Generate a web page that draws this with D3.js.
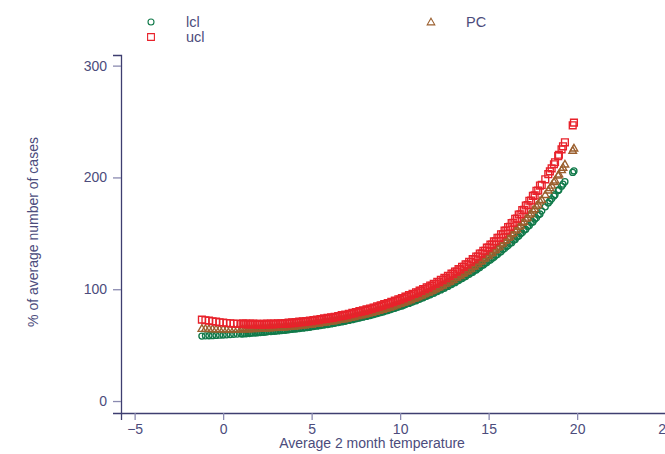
<!DOCTYPE html>
<html>
<head>
<meta charset="utf-8">
<script src="https://cdn.jsdelivr.net/npm/d3@7"></script>
<style>
  html, body { margin: 0; padding: 0; background: #ffffff; }
  svg { display: block; font-family: "Liberation Sans", Arial, Helvetica, sans-serif; }
</style>
</head>
<body>
<div id="chart"></div>
<script>
// Average 2 month temperature (x), first batch of observations
const temp = [
  -1.2,-1.0,-0.8,-0.6,-0.4,-0.2,
  0.0,0.2,0.4,0.6,0.8,
  1.0,1.2,1.4,1.6,1.8, 2.0,2.2,2.4,2.6,2.8, 3.0,3.2,3.4,3.6,3.8, 4.0,4.2,4.4,4.6,4.8,
  5.0,5.2,5.4,5.6,5.8, 6.0,6.2,6.4,6.6,6.8, 7.0,7.2,7.4,7.6,7.8, 8.0,8.2,8.4,8.6,8.8,
  9.0,9.2,9.4,9.6,9.8, 10.0,10.2,10.4,10.6,10.8, 11.0,11.2,11.4,11.6,11.8, 12.0,12.2,12.4,12.6,12.8,
  13.0,13.2,13.4,13.6,13.8, 14.0,14.2,14.4,14.6,14.8, 15.0,15.2,15.4,15.6,15.8, 16.0,16.2,16.4,16.6,16.8,
  17.0,17.2,17.4,17.6,17.8, 18.0,18.2,
  18.37,18.46,18.56,18.69,18.75,18.93,18.97,19.12,19.2,19.31,19.75,19.82
];
const pc = [
  64.9,64.8,64.7,64.6,64.5,64.4,
  64.4,64.3,64.3,64.3,64.3,
  64.4,64.4,64.5,64.6,64.7, 64.8,64.9,65.1,65.3,65.5, 65.7,65.9,66.1,66.4,66.7, 67.0,67.3,67.7,68.0,68.4,
  68.8,69.3,69.7,70.2,70.7, 71.2,71.7,72.3,72.9,73.5, 74.1,74.8,75.5,76.2,77.0, 77.7,78.5,79.3,80.2,81.1,
  82.0,83.0,84.0,85.0,86.1, 87.2,88.3,89.5,90.7,91.9, 93.2,94.6,96.0,97.4,98.9, 100.4,102.0,103.6,105.3,107.0,
  108.8,110.7,112.6,114.6,116.6, 118.7,120.9,123.1,125.5,127.9, 130.4,132.9,135.6,138.4,141.3, 144.3,147.3,150.5,153.8,157.2,
  160.7,164.4,168.1,172.0,176.0, 180.3,184.6,
  188.6,190.7,193.0,196.1,197.6,202.0,203.0,206.9,209.0,211.9,224.2,226.2
];
const ucl = [
  72.8,72.3,71.9,71.4,71.0,70.5,
  70.2,69.8,69.6,69.3,69.1,
  68.9,68.7,68.6,68.5,68.5, 68.4,68.3,68.4,68.6,68.6, 68.7,68.9,69.0,69.3,69.5, 69.7,70.1,70.4,70.7,71.1,
  71.5,72.0,72.4,72.9,73.4, 73.9,74.4,75.0,75.7,76.3, 76.9,77.6,78.4,79.2,80.0, 80.7,81.6,82.4,83.4,84.3,
  85.3,86.3,87.4,88.4,89.5, 90.7,91.8,93.2,94.4,95.7, 97.0,98.5,100.0,101.5,103.1, 104.7,106.4,108.2,109.9,111.8,
  113.7,115.8,117.8,120.0,122.1, 124.4,126.8,129.3,131.8,134.4, 137.2,139.9,142.9,146.0,149.2, 152.5,155.8,159.5,163.2,167.1,
  171.0,175.3,179.4,183.9,188.3, 193.3,198.3,
  202.9,205.4,208.1,211.8,213.6,219.0,220.3,225.1,227.8,231.4,246.6,249.0
];
const lcl = [
  58.1,58.3,58.4,58.5,58.7,58.9,
  59.1,59.2,59.4,59.7,59.9,
  60.1,60.3,60.6,60.9,61.1, 61.4,61.6,62.0,62.3,62.6, 62.9,63.1,63.5,63.8,64.2, 64.6,64.9,65.4,65.7,66.1,
  66.6,67.2,67.5,68.1,68.6, 69.1,69.6,70.3,70.9,71.5, 72.1,72.8,73.5,74.2,75.0, 75.7,76.5,77.2,78.1,79.0,
  79.9,80.8,81.8,82.8,83.9, 84.9,86.0,87.2,88.3,89.5, 90.8,92.1,93.4,94.8,96.2, 97.6,99.1,100.7,102.2,103.9,
  105.5,107.3,109.1,110.9,112.9, 114.8,116.8,118.8,121.1,123.3, 125.6,127.8,130.3,132.9,135.5, 138.2,141.0,143.7,146.7,149.7,
  152.8,156.0,159.4,162.7,166.3, 170.0,173.7,
  177.1,178.9,180.8,183.4,184.6,188.3,189.0,192.2,194.0,196.2,204.5,205.8
];

// second batch of observations
const temp2 = [
  1.1,1.3,1.5,1.7,1.9, 2.1,2.3,2.5,2.7,2.9, 3.1,3.3,3.5,3.7,3.9, 4.1,4.3,4.5,4.7,4.9,
  5.1,5.3,5.5,5.7,5.9, 6.1,6.3,6.5,6.7,6.9, 7.1,7.3,7.5,7.7,7.9, 8.1,8.3,8.5,8.7,8.9,
  9.1,9.3,9.5,9.7,9.9, 10.1,10.3,10.5,10.7,10.9, 11.1,11.3,11.5,11.7,11.9, 12.1,12.3,12.5,12.7,12.9,
  13.1,13.3,13.5,13.7,13.9, 14.1,14.3,14.5,14.7,14.9, 15.1,15.3,15.5,15.7,15.9, 16.1,16.3,16.5,16.7,16.9,
  17.1,17.3,17.5,17.7,17.9
];
const pc2 = [
  64.7,64.7,64.8,64.9,65.0, 65.1,65.3,65.5,65.7,65.9, 66.1,66.3,66.5,66.8,67.1, 67.4,67.8,68.1,68.5,68.9,
  69.3,69.8,70.2,70.7,71.2, 71.7,72.3,72.9,73.5,74.1, 74.7,75.5,76.2,76.9,77.7, 78.4,79.2,80.1,81.0,81.9,
  82.8,83.8,84.8,85.9,87.0, 88.1,89.3,90.5,91.7,92.9, 94.3,95.7,97.1,98.5,100.0, 101.6,103.2,104.9,106.6,108.3,
  110.2,112.1,114.1,116.1,118.1, 120.3,122.5,124.8,127.2,129.7, 132.2,134.8,137.5,140.4,143.4, 146.4,149.5,152.8,156.1,159.6,
  163.2,166.9,170.7,174.7,178.9
];
const ucl2 = [
  69.5,69.3,69.2,69.2,69.1, 69.0,69.0,69.2,69.3,69.3, 69.5,69.6,69.8,70.1,70.3, 70.6,71.0,71.3,71.6,72.0,
  72.5,72.9,73.4,73.9,74.4, 74.9,75.4,76.1,76.8,77.4, 78.0,78.8,79.6,80.4,81.2, 82.0,82.8,83.7,84.7,85.6,
  86.7,87.7,88.8,89.8,91.0, 92.2,93.4,94.7,96.0,97.3, 98.7,100.2,101.8,103.3,104.9, 106.6,108.4,110.1,112.0,113.9,
  115.9,118.0,120.1,122.3,124.5, 126.9,129.3,131.9,134.4,137.2, 139.9,142.8,145.9,149.1,152.4, 155.7,159.2,163.0,166.8,170.7,
  174.9,179.1,183.5,188.0,192.7
];
const lcl2 = [
  59.9,60.1,60.4,60.7,60.9, 61.2,61.5,61.8,62.1,62.4, 62.7,63.0,63.3,63.7,64.1, 64.4,64.8,65.2,65.6,66.0,
  66.6,67.0,67.5,68.0,68.5, 69.0,69.6,70.2,70.8,71.4, 72.1,72.8,73.5,74.2,75.0, 75.7,76.5,77.3,78.2,79.1,
  79.9,80.9,81.9,82.9,84.0, 85.0,86.2,87.3,88.5,89.7, 91.0,92.3,93.6,95.0,96.4, 97.9,99.4,100.9,102.5,104.2,
  105.9,107.7,109.5,111.3,113.3, 115.2,117.2,119.4,121.6,123.8, 126.1,128.4,130.9,133.5,136.2, 138.9,141.6,144.5,147.5,150.5,
  153.6,156.9,160.2,163.7,167.3
];

const xTicks = [-5, 0, 5, 10, 15, 20, 25];
const yTicks = [0, 100, 200, 300];
const seriesNames = ["lcl", "ucl", "PC"];

const W = 665, H = 454;
const axisCol = "#3e3e70", textCol = "#4c4c7c", tickCol = "#8a8ab0";
const cols = { lcl: "#117a4a", ucl: "#e8222b", PC: "#9b5f2e" };

const svg = d3.select("#chart").append("svg").attr("width", W).attr("height", H);

const x = d3.scaleLinear().domain([-5.77, 26.8]).range([121, 697.5]);
const y = d3.scaleLinear().domain([-10.7, 309.5]).range([413, 55]);

function markerPath(shape, cx, cy) {
  if (shape === "circle") {
    const r = 3;
    return `M${cx - r},${cy}a${r},${r} 0 1,0 ${2*r},0a${r},${r} 0 1,0 ${-2*r},0Z`;
  } else if (shape === "square") {
    const h = 3.4;
    return `M${cx - h},${cy - h}h${2*h}v${2*h}h${-2*h}Z`;
  } else {
    const s = 3.8;
    return `M${cx},${cy - s}L${cx + s},${cy + s*0.75}L${cx - s},${cy + s*0.75}Z`;
  }
}

const plot = svg.append("g");
const drawSeries = (xs, vals, shape, col) => {
  plot.append("g").selectAll("path").data(xs.map((t, i) => [t, vals[i]])).join("path")
    .attr("d", d => markerPath(shape, x(d[0]), y(d[1])))
    .attr("fill", "none").attr("stroke", col).attr("stroke-width", 1.35);
};
drawSeries(temp, lcl, "circle", cols.lcl);
drawSeries(temp2, lcl2, "circle", cols.lcl);
drawSeries(temp, pc, "triangle", cols.PC);
drawSeries(temp2, pc2, "triangle", cols.PC);
drawSeries(temp, ucl, "square", cols.ucl);
drawSeries(temp2, ucl2, "square", cols.ucl);

// axes
const yAxis = d3.axisLeft(y).tickValues(yTicks).tickSize(8).tickPadding(6).tickFormat(d3.format("d"));
const gy = svg.append("g").attr("transform", `translate(${x(-5.77)},0)`).call(yAxis);
const xAxis = d3.axisBottom(x).tickValues(xTicks).tickSize(7).tickPadding(4).tickFormat(d3.format("d"));
const gx = svg.append("g").attr("transform", `translate(0,${y(-10.7)})`).call(xAxis);
[gy, gx].forEach(g => {
  g.select(".domain").attr("stroke", axisCol).attr("stroke-width", 1.3);
  g.selectAll(".tick line").attr("stroke", tickCol).attr("stroke-width", 1.3);
  g.selectAll(".tick text").attr("fill", textCol).style("font-size", "14px")
    .style("font-family", '"Liberation Sans", Arial, sans-serif');
});

// axis titles
svg.append("text").attr("x", 372).attr("y", 448).attr("text-anchor", "middle")
  .attr("fill", textCol).style("font-size", "14px").text("Average 2 month temperature");
svg.append("text").attr("transform", "translate(38,232) rotate(-90)").attr("text-anchor", "middle")
  .attr("fill", textCol).style("font-size", "14px").text("% of average number of cases");

// legend
const legendItems = [
  { name: seriesNames[0], shape: "circle", col: cols.lcl, mx: 151, my: 22 },
  { name: seriesNames[1], shape: "square", col: cols.ucl, mx: 151, my: 37 },
  { name: seriesNames[2], shape: "triangle", col: cols.PC, mx: 431, my: 22 }
];
const lg = svg.append("g");
legendItems.forEach(it => {
  lg.append("path").attr("d", markerPath(it.shape, it.mx, it.my))
    .attr("fill", "none").attr("stroke", it.col).attr("stroke-width", 1.1);
  lg.append("text").attr("x", it.mx + 35).attr("y", it.my + 5).attr("fill", textCol)
    .style("font-size", "14.5px").text(it.name);
});
</script>
</body>
</html>
